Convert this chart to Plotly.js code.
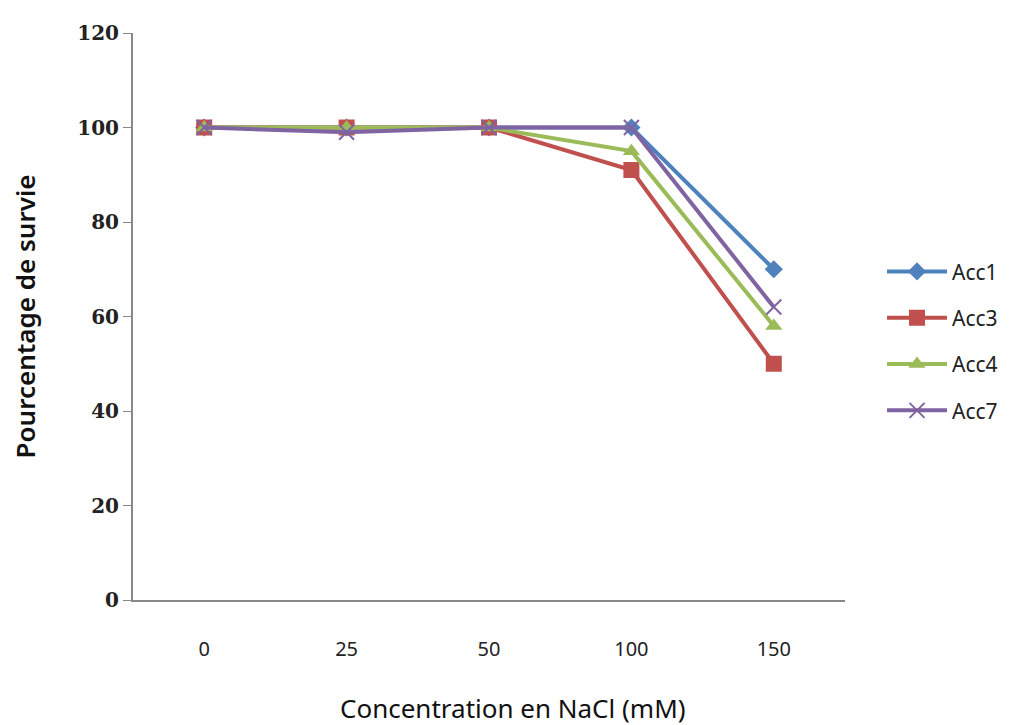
<!DOCTYPE html>
<html><head><meta charset="utf-8">
<script src="https://cdn.plot.ly/plotly-3.0.1.min.js"></script>
<style>body{margin:0;background:#fff}#c{width:1015px;height:725px}</style>
</head><body><div id="c"></div>
<script>
const categories = ["0", "25", "50", "100", "150"];
const seriesNames = ["Acc1", "Acc3", "Acc4", "Acc7"];
const acc1 = [100, 100, 100, 100, 70];
const acc3 = [100, 100, 100, 91, 50];
const acc4 = [100, 100, 100, 95, 58];
const acc7 = [100, 99, 100, 100, 62];
const yTicks = [0, 20, 40, 60, 80, 100, 120];
const xTitle = "Concentration en NaCl (mM)";
const yTitle = "Pourcentage de survie";

const colors = ["#4F81BD", "#C0504D", "#9BBB59", "#8064A2"];
const symbols = ["diamond", "square", "triangle-up", "x-thin-open"];
const sizes = [14, 16, 15, 15];
const allData = [acc1, acc3, acc4, acc7];

const traces = allData.map((vals, i) => ({
  type: "scatter", mode: "lines+markers",
  x: categories, y: vals, name: seriesNames[i],
  legendgroup: "g" + i,
  line: {color: colors[i], width: 4},
  marker: {symbol: symbols[i], size: sizes[i], color: colors[i],
           line: {color: colors[i], width: i === 3 ? 2 : 0}}
}));

const layout = {
  width: 1015, height: 725,
  margin: {l: 133, r: 167, t: 33, b: 125},
  paper_bgcolor: "#fff", plot_bgcolor: "#fff",
  showlegend: true,
  legend: {x: 1.052, y: 0.615, xanchor: "left", yanchor: "top",
           traceorder: "grouped", tracegroupgap: 16, itemwidth: 60,
           font: {family: "Noto Sans, sans-serif", size: 21, color: "#222"}},
  xaxis: {type: "category", range: [-0.5, 4.5], showline: true, linecolor: "#888", linewidth: 2,
          ticks: "", showgrid: false, zeroline: false,
          ticklabelstandoff: 30,
          tickfont: {family: "Noto Sans, sans-serif", size: 20, color: "#222"}},
  yaxis: {range: [0, 120], tickvals: yTicks, showline: true, linecolor: "#888", linewidth: 2,
          ticks: "outside", ticklen: 8, tickcolor: "#888", tickwidth: 1,
          showgrid: false, zeroline: false,
          tickfont: {family: "DejaVu Serif, serif", size: 20, weight: "bold", color: "#222"},
          title: {text: yTitle, standoff: 34,
                  font: {family: "Noto Sans, sans-serif", size: 26, weight: 600, color: "#111"}}},
  annotations: [{text: xTitle, xref: "paper", yref: "paper", x: 0.534, y: -0.19,
                 xanchor: "center", yanchor: "middle", showarrow: false,
                 font: {family: "Noto Sans, sans-serif", size: 26, color: "#111"}}]
};
Plotly.newPlot("c", traces, layout, {displayModeBar: false});
</script></body></html>
